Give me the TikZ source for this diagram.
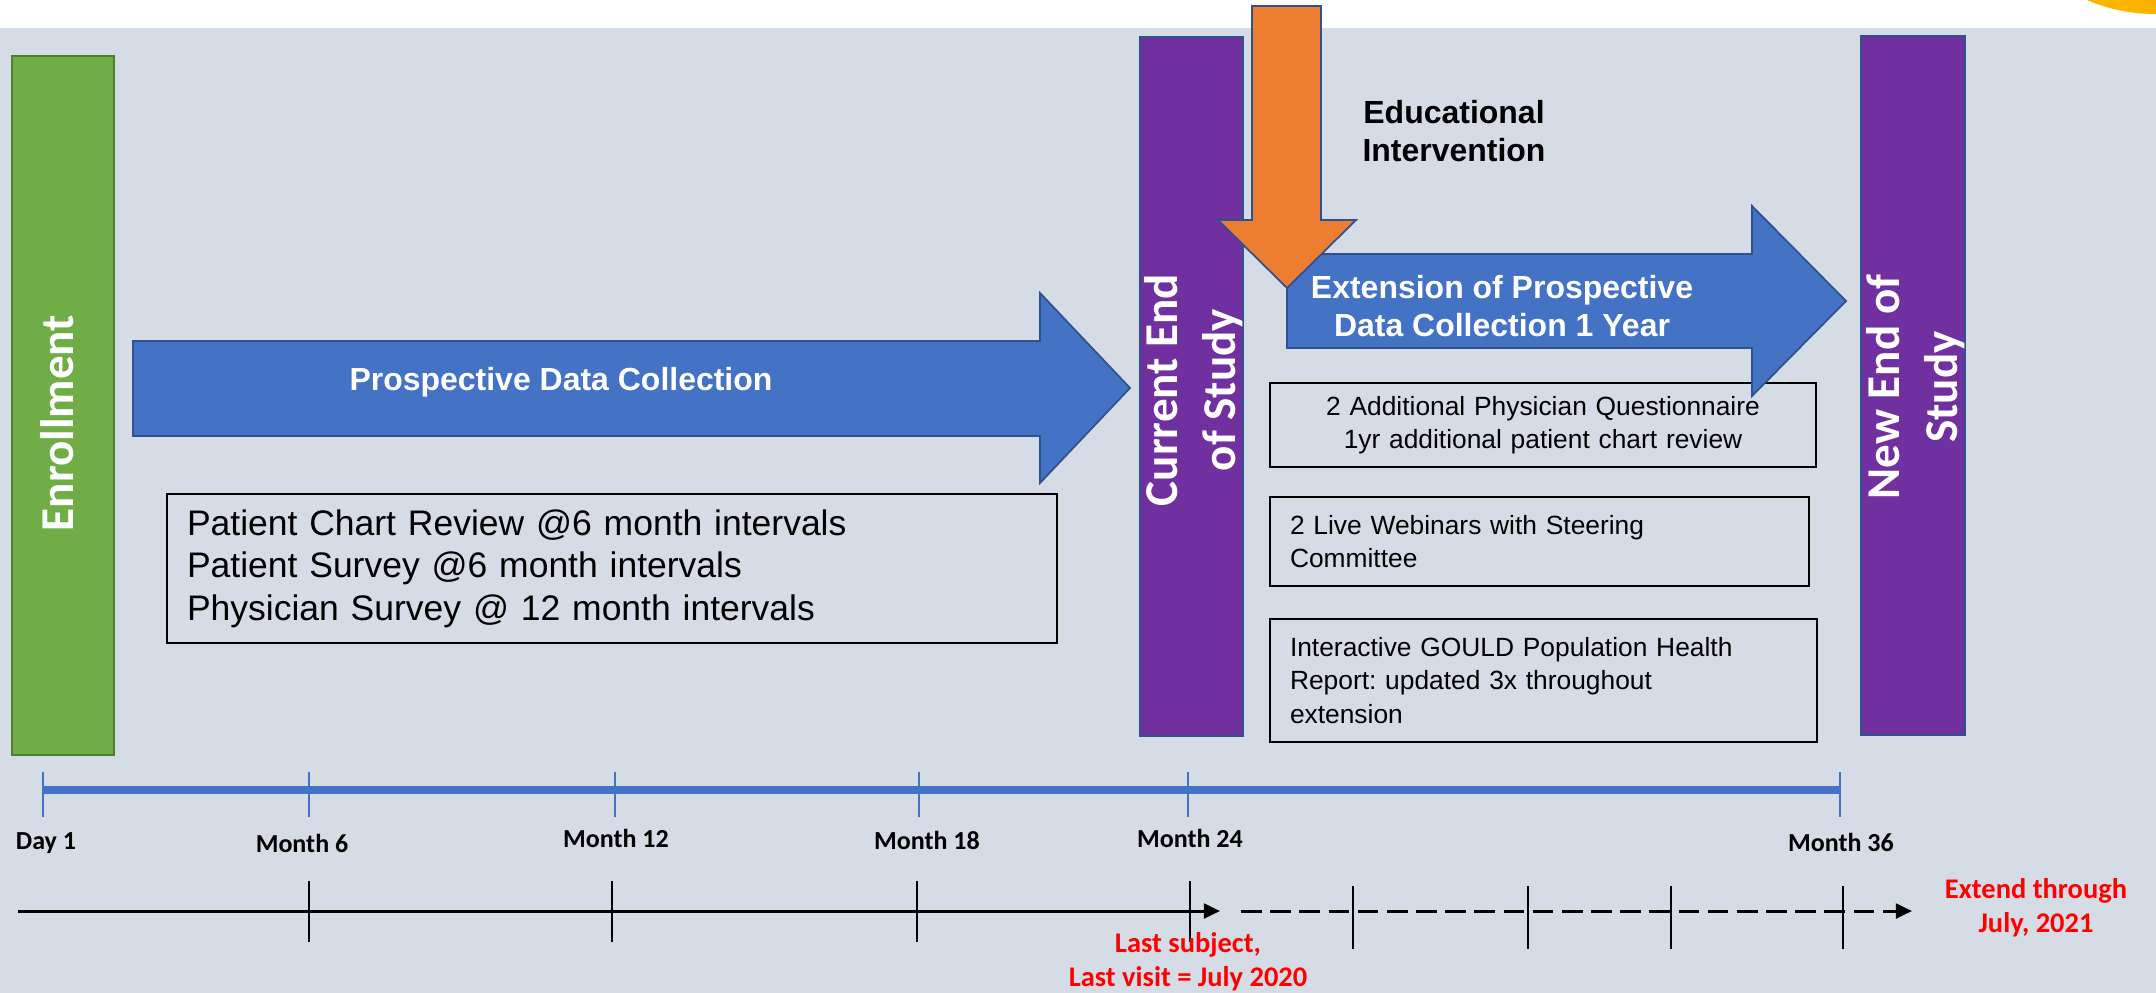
\documentclass[tikz,border=0pt]{standalone}
\usepackage{fontspec}
\setmainfont{Liberation Sans}
\newfontfamily\calibri{Carlito}
\usetikzlibrary{arrows.meta}
\frenchspacing

\definecolor{panel}{HTML}{D6DCE5}
\definecolor{shapeline}{HTML}{2F528F}
\definecolor{phaseblue}{HTML}{4472C4}
\definecolor{enrolgreen}{HTML}{70AD47}
\definecolor{enrolline}{HTML}{507E32}
\definecolor{endpurple}{HTML}{7030A0}
\definecolor{interorange}{HTML}{ED7D31}
\definecolor{sunyellow}{HTML}{FFC000}
\definecolor{sunorange}{HTML}{F5A200}

\begin{document}
\begin{tikzpicture}[
  blockarrow/.style={fill=phaseblue,draw=shapeline,line width=0.5pt,line join=miter},
  bartext/.style={rotate=90,text=white,align=center,inner sep=0pt,
    font=\calibri\bfseries\fontsize{13.4}{16.5}\selectfont},
  arrowtext/.style={text=white,align=center,inner sep=0pt,
    font=\bfseries\fontsize{9.1}{10.8}\selectfont},
  infobox/.style={draw,line width=0.5pt,inner xsep=0.2cm,inner ysep=0pt,
    font=\fontsize{7.5}{9.5}\selectfont},
  monthlabel/.style={anchor=base,inner sep=0pt,font=\calibri\bfseries\fontsize{7.4}{9}\selectfont},
  note/.style={text=red,align=center,inner sep=0pt,font=\calibri\bfseries\fontsize{8.1}{9.7}\selectfont},
  tline/.style={line width=0.85pt,-{Triangle[length=4.6pt,width=4.2pt]}},
]
\useasboundingbox (0,0) rectangle (21.56,-9.93);
\fill[white] (0,0) rectangle (21.56,-9.93);
\fill[panel] (0,-0.28) rectangle (21.56,-9.93);
\begin{scope}
  \clip (0,0) rectangle (21.56,-9.93);
  \shade[left color=sunyellow,right color=sunorange] (21.55,1.58) circle (1.72);
\end{scope}

% phase bars
\draw[fill=enrolgreen,draw=enrolline,line width=0.6pt] (0.12,-0.56) rectangle (1.14,-7.55);
\draw[fill=endpurple,draw=shapeline,line width=0.6pt] (11.40,-0.37) rectangle (12.43,-7.36);
\draw[fill=endpurple,draw=shapeline,line width=0.6pt] (18.61,-0.36) rectangle (19.65,-7.35);

% activity boxes
\node[infobox,text width=8.5cm,minimum height=1.49cm,align=left,
  font=\fontsize{10.1}{12.1}\selectfont] (visits) at (6.12,-5.685)
  {Patient Chart Review @6 month intervals\\Patient Survey @6 month intervals\\Physician Survey @ 12 month intervals};
\node[infobox,text width=5.06cm,minimum height=0.84cm,align=center] (questionnaire) at (15.43,-4.25)
  {2 Additional Physician Questionnaire\\1yr additional patient chart review};
\node[infobox,text width=4.99cm,minimum height=0.89cm,align=left] (webinars) at (15.395,-5.415)
  {2 Live Webinars with Steering\\Committee};
\node[infobox,text width=5.07cm,minimum height=1.23cm,align=left] (report) at (15.435,-6.805)
  {Interactive GOULD Population Health\\Report: updated 3x throughout\\extension};

% block arrows
\draw[blockarrow] (1.33,-3.41) -- (10.40,-3.41) -- (10.40,-2.93) -- (11.30,-3.88)
  -- (10.40,-4.83) -- (10.40,-4.36) -- (1.33,-4.36) -- cycle;
\draw[blockarrow] (12.87,-2.54) -- (17.52,-2.54) -- (17.52,-2.06) -- (18.46,-3.01)
  -- (17.52,-3.96) -- (17.52,-3.48) -- (12.87,-3.48) -- cycle;
\draw[blockarrow,fill=interorange] (12.52,-0.06) -- (13.21,-0.06) -- (13.21,-2.20) -- (13.56,-2.20)
  -- (12.87,-2.88) -- (12.18,-2.20) -- (12.52,-2.20) -- cycle;

\node[arrowtext,anchor=base] (collect) at (5.61,-3.90) {Prospective Data Collection};
\node[arrowtext] (extension) at (15.02,-3.06) {Extension of Prospective\\Data Collection 1 Year};
\node[align=center,inner sep=0pt,font=\bfseries\fontsize{9.1}{10.8}\selectfont] (intervention)
  at (14.54,-1.31) {Educational\\Intervention};

\node[bartext] (enrol) at (0.57,-4.23) {Enrollment};
\node[bartext] (curend) at (11.94,-3.90) {Current End\\of Study};
\node[bartext] (newend) at (19.16,-3.87) {New End of\\Study};

% study months
\draw[phaseblue,line width=2pt] (0.43,-7.90) -- (18.41,-7.90);
\foreach \x in {0.43,3.09,6.15,9.19,11.88,18.40}
  \draw[phaseblue,line width=0.3pt] (\x,-7.72) -- (\x,-8.17);
\node[monthlabel] (day1) at (0.46,-8.49) {Day 1};
\node[monthlabel] (m6) at (3.02,-8.52) {Month 6};
\node[monthlabel] (m12) at (6.16,-8.47) {Month 12};
\node[monthlabel] (m18) at (9.27,-8.49) {Month 18};
\node[monthlabel] (m24) at (11.90,-8.47) {Month 24};
\node[monthlabel] (m36) at (18.41,-8.51) {Month 36};

% calendar line
\coordinate (t0) at (0.18,-9.11);
\coordinate (t24) at (12.20,-9.11);
\coordinate (x0) at (12.41,-9.11);
\coordinate (x36) at (19.12,-9.11);
\draw[tline] (t0) -- (t24);
\draw[tline,dash pattern=on 5.9pt off 2.4pt] (x0) -- (x36);
\foreach \x in {3.09,6.12,9.17,11.90}
  \draw[line width=0.35pt] (\x,-8.81) -- (\x,-9.42);
\foreach \x in {13.53,15.28,16.71,18.43}
  \draw[line width=0.35pt] (\x,-8.86) -- (\x,-9.49);

\node[note] (lastvisit) at (11.88,-9.62) {Last subject,\\Last visit = July 2020};
\node[note] (through) at (20.36,-9.08) {Extend through\\July, 2021};
\end{tikzpicture}
\end{document}
